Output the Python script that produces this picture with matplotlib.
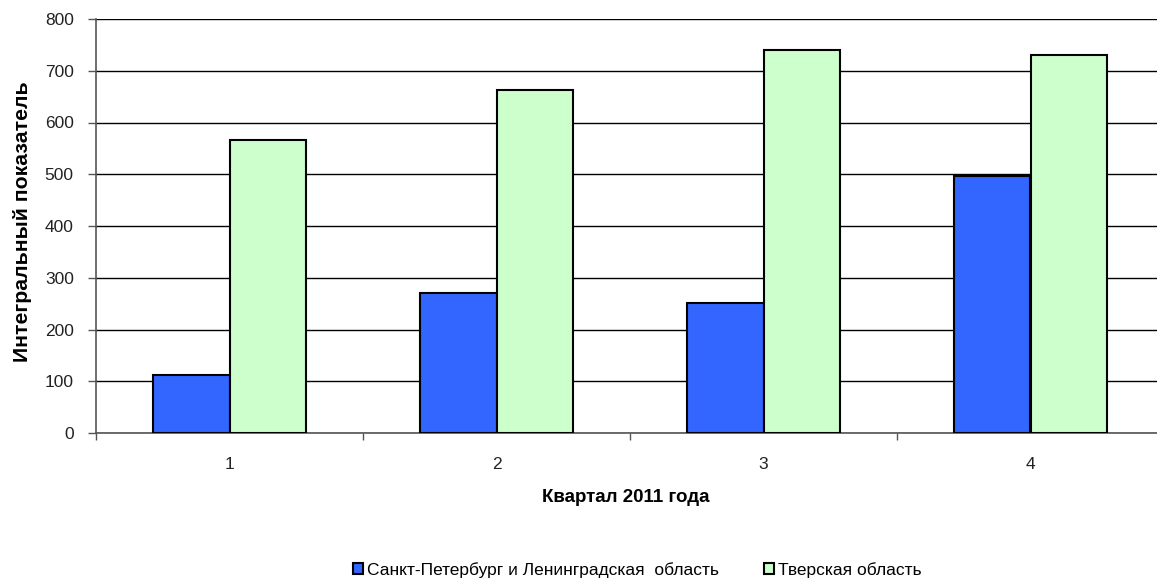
import matplotlib
matplotlib.use("Agg")
import matplotlib.pyplot as plt
import numpy as np

plt.rcParams['font.family'] = ['Liberation Sans', 'DejaVu Sans']

quarters = ["1", "2", "3", "4"]
spb_values = [112, 270, 252, 497]
tver_values = [566, 662, 741, 731]
series_names = ["Санкт-Петербург и Ленинградская  область", "Тверская область"]
y_ticks = [0, 100, 200, 300, 400, 500, 600, 700, 800]

fig = plt.figure(figsize=(11.57, 5.81), dpi=100)
ax = fig.add_axes([96 / 1157, 1 - 433 / 581, 1068 / 1157, (433 - 19) / 581])

x = np.arange(len(quarters))
w = 0.288
ax.bar(x - w / 2, spb_values, width=w, color="#3366FF", edgecolor="black",
       linewidth=1.5, label=series_names[0], zorder=3)
ax.bar(x + w / 2, tver_values, width=w, color="#CCFFCC", edgecolor="black",
       linewidth=1.5, label=series_names[1], zorder=3)

ax.set_xlim(-0.5, len(quarters) - 0.5)
ax.set_ylim(0, 800)
ax.set_yticks(y_ticks)
ax.yaxis.grid(True, color="black", linewidth=1.0, zorder=0)
ax.set_axisbelow(True)

ax.set_xticks(x)
ax.set_xticklabels(quarters)
ax.set_xticks(np.arange(len(quarters) + 1) - 0.5, minor=True)
ax.tick_params(axis="x", which="major", length=0, pad=17, labelsize=12.5)
ax.tick_params(axis="x", which="minor", length=5, width=1, color="#555555", direction="out")
ax.tick_params(axis="y", length=6, width=1, color="#555555", labelsize=12.5, pad=10)
for lbl in ax.get_yticklabels() + ax.get_xticklabels():
    lbl.set_color("#222222")

for side in ["top", "right"]:
    ax.spines[side].set_visible(False)
ax.spines["left"].set_color("#555555")
ax.spines["bottom"].set_color("#555555")
ax.spines["left"].set_linewidth(1.2)
ax.spines["bottom"].set_linewidth(1.2)

ax.set_ylabel("Интегральный показатель", fontsize=15.3, fontweight="bold")
ax.yaxis.set_label_coords(-0.060, 0.51)
ax.set_xlabel("Квартал 2011 года", fontsize=13.5, fontweight="bold")
ax.xaxis.set_label_coords(0.496, -0.135)

fig.legend(loc="center", bbox_to_anchor=(0.5506, 1 - 570 / 581), ncol=2, frameon=False,
           fontsize=12.5, handlelength=0.6, handleheight=0.6, handletextpad=0.2,
           columnspacing=2.6)

fig.savefig("out.png", dpi=100)
